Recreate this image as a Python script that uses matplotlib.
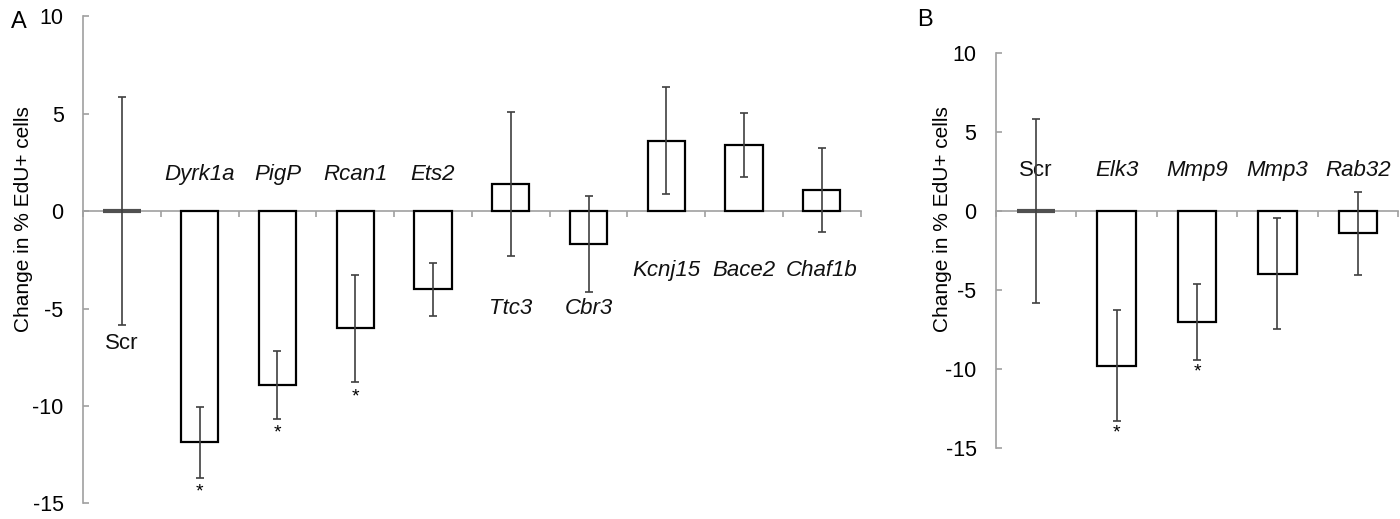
import matplotlib
matplotlib.use("Agg")
import matplotlib.pyplot as plt
import numpy as np

plt.rcParams['font.family'] = ['Liberation Sans', 'DejaVu Sans']
plt.rcParams['axes.unicode_minus'] = False

# Panel A data
genes_a = ["Scr", "Dyrk1a", "PigP", "Rcan1", "Ets2", "Ttc3", "Cbr3", "Kcnj15", "Bace2", "Chaf1b"]
change_a = [0.0, -11.87, -8.92, -6.02, -4.02, 1.37, -1.69, 3.62, 3.39, 1.08]
err_a = [5.85, 1.80, 1.73, 2.76, 1.38, 3.69, 2.45, 2.72, 1.62, 2.16]
signif_a = [False, True, True, True, False, False, False, False, False, False]

# Panel B data
genes_b = ["Scr", "Elk3", "Mmp9", "Mmp3", "Rab32"]
change_b = [0.0, -9.79, -7.04, -3.97, -1.40]
err_b = [5.83, 3.52, 2.42, 3.51, 2.62]
signif_b = [False, True, True, False, False]

# where the gene names sit (data units), as in the original figure
name_y_a = [-6.8, 1.9, 1.9, 1.9, 1.9, -5.0, -5.0, -3.06, -3.06, -3.06]
name_y_b = [2.55, 2.55, 2.55, 2.55, 2.55]

AXCOL = "#a0a0a0"
ERRCOL = "#404040"


def panel(ax, genes, vals, errs, sig, name_y):
    n = len(genes)
    x = np.arange(n) + 0.5
    for i in range(n):
        if vals[i] == 0:
            # control: zero-height bar shows as a thick line
            ax.plot([x[i] - 0.24, x[i] + 0.24], [0, 0], color="#505050", lw=3, zorder=3,
                    solid_capstyle="butt")
        else:
            ax.bar(x[i], vals[i], width=0.48, facecolor="white", edgecolor="black",
                   linewidth=1.6, zorder=2)
    ax.errorbar(x, vals, yerr=errs, fmt="none", ecolor=ERRCOL, elinewidth=1.2,
                capsize=3, capthick=1.2, zorder=4)
    for i in range(n):
        if sig[i]:
            ax.text(x[i], vals[i] - errs[i] - 0.75, "*", ha="center", va="center",
                    fontsize=14)
        style = "normal" if genes[i] == "Scr" else "italic"
        ax.text(x[i], name_y[i], genes[i], ha="center", va="center",
                fontsize=16, style=style, color="#111111")

    ax.set_xlim(0, n)
    ax.set_ylim(-15, 10)
    ax.set_yticks([-15, -10, -5, 0, 5, 10])
    ax.set_xticks(np.arange(n + 1))
    ax.set_xticklabels([])
    for s in ["top", "right"]:
        ax.spines[s].set_visible(False)
    ax.spines["left"].set_color(AXCOL)
    ax.spines["bottom"].set_color(AXCOL)
    ax.spines["left"].set_linewidth(1.2)
    ax.spines["bottom"].set_linewidth(1.2)
    ax.spines["bottom"].set_position(("data", 0))
    ax.spines["bottom"].set_zorder(1)
    ax.tick_params(axis="y", direction="in", length=4, width=1.2, color=AXCOL,
                   labelsize=15.5, pad=14)
    ax.tick_params(axis="x", direction="out", length=4, width=1.2, color=AXCOL)
    ax.set_ylabel("Change in % EdU+ cells", fontsize=15)


fig = plt.figure(figsize=(14, 5.19), dpi=100)
ax_a = fig.add_axes([0.0593, 0.0299, 0.5555, 0.939])
ax_b = fig.add_axes([0.7114, 0.1374, 0.2872, 0.7597])

panel(ax_a, genes_a, change_a, err_a, signif_a, name_y_a)
panel(ax_b, genes_b, change_b, err_b, signif_b, name_y_b)

ax_a.yaxis.set_label_coords(-0.064, 0.583)
ax_b.yaxis.set_label_coords(-0.109, 0.579)

fig.text(0.008, 0.957, "A", fontsize=17, va="center", ha="left")
fig.text(0.655, 0.961, "B", fontsize=17, va="center", ha="left")

fig.savefig("out.png", dpi=100)
